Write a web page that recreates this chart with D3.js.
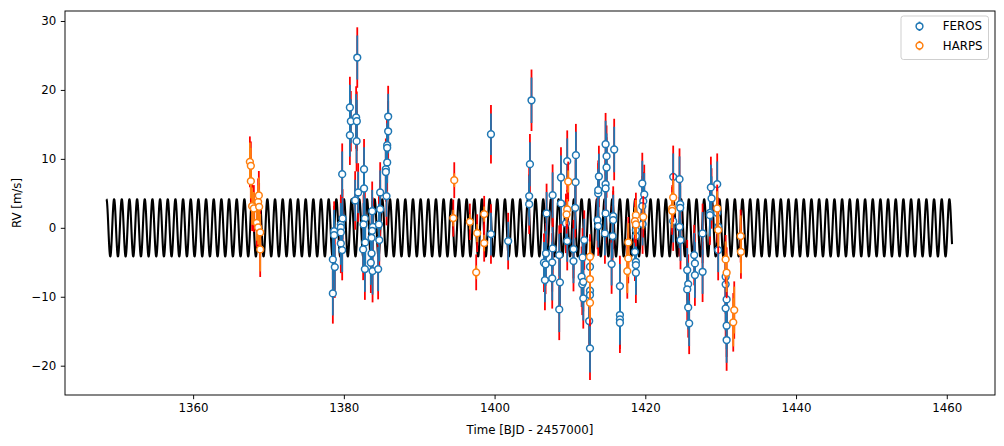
<!DOCTYPE html>
<html>
<head>
<meta charset="utf-8">
<script src="https://cdn.jsdelivr.net/npm/d3@7"></script>
<style>
  body { margin: 0; background: #fff; }
  svg text { font-family: "DejaVu Sans", sans-serif; }
</style>
</head>
<body>
<svg id="chart" width="1004" height="446"></svg>
<script>
// FEROS radial velocities (time, rv, error)
var feros_t = [1378.54,1378.54,1378.71,1378.71,1378.80,1379.60,1379.60,1379.60,1379.60,1379.78,1379.78,1379.83,
  1380.80,1380.93,1380.80,1381.50,1381.63,1381.69,1381.72,1381.78,1381.90,1382.56,1382.68,1382.68,1382.79,1382.61,
  1382.83,1382.79,1383.76,1383.85,1383.76,1383.68,1383.68,1383.58,1383.81,1384.55,1384.65,1384.70,1384.82,1384.82,
  1385.57,1385.57,1385.66,1385.75,1385.75,1385.75,1385.88,1385.88,
  1399.52,1399.52,1401.80,1404.69,1404.59,1404.59,1404.90,
  1406.90,1406.81,1406.55,1406.77,1406.68,1407.70,1407.70,1407.65,1407.65,1408.58,1408.67,1408.58,1408.81,1408.81,
  1409.64,1409.46,1409.64,1410.79,1410.75,1410.70,1410.47,1410.47,1411.90,1411.68,1411.55,1411.63,1411.77,1411.77,
  1412.66,1412.66,1412.66,1412.55,1412.66,1413.75,1413.75,1413.84,1413.66,1413.75,1414.64,1414.73,1414.86,1414.86,
  1414.73,1414.73,1414.73,1415.87,1415.74,1415.74,1415.66,1415.53,1416.63,1416.63,1416.63,1416.63,
  1418.75,1418.62,1418.75,1418.75,1418.75,1418.75,1419.60,1419.86,1419.73,1419.60,1419.64,
  1423.70,1423.70,1424.54,1424.63,1424.63,1424.54,1424.67,1426.49,1426.58,1426.58,1425.56,1425.69,1425.56,1425.69,
  1425.82,1427.60,1427.60,1428.70,1428.79,1428.57,1428.57,1429.54,1429.54,1429.67,1429.67,
  1430.66,1430.66,1430.79,1430.66,1430.79,1430.79];
var feros_rv = [-9.51,-4.58,-0.48,-1.06,-5.70,0.49,0.05,-0.67,-2.26,7.78,-3.23,1.36,
  17.45,15.46,13.43,3.97,16.00,12.57,15.46,24.70,5.13,-3.13,8.50,5.70,1.36,0.49,
  -2.12,-5.99,2.40,0.15,-0.43,-1.45,-3.72,-5.07,-6.28,-5.99,0.49,-1.78,5.13,2.70,
  8.50,8.10,4.60,11.98,11.60,9.48,16.14,14.00,
  13.58,-0.91,-1.93,9.23,4.60,3.43,18.50,
  2.09,-3.71,-5.07,-5.30,-7.58,4.74,-2.99,-5.01,-7.33,-3.96,-7.91,-11.83,7.30,3.54,
  9.67,0.64,-1.93,10.54,6.62,2.90,-3.09,-4.83,-1.78,-4.29,-7.10,-8.20,-7.83,-10.23,
  -5.65,-9.13,-9.75,-13.52,-17.48,4.99,5.46,7.45,1.12,0.25,-0.81,12.13,10.39,8.75,
  6.33,5.71,2.09,11.36,1.70,1.12,-1.20,-5.26,-8.45,-12.65,-13.28,-13.77,
  -1.20,-3.48,-4.93,-5.41,-6.52,-0.33,6.43,4.84,3.87,3.14,0.54,
  7.39,0.97,7.06,3.43,2.90,0.15,-1.78,-3.96,-5.16,-6.86,-6.13,-8.16,-8.93,-11.54,
  -13.86,-0.81,-6.38,5.86,4.26,2.17,1.84,6.33,2.17,0.15,-3.23,
  -7.10,-8.20,-10.38,-11.68,-14.20,-16.28];
var feros_err = [3.2,3.0,3.1,3.0,3.3,3.1,3.0,3.2,3.1,3.3,3.2,3.0,
  3.3,3.2,3.1,3.0,3.4,3.2,3.1,3.2,3.0,3.3,3.2,3.1,3.0,3.1,
  3.2,3.3,3.1,3.0,3.1,3.2,3.3,3.2,3.4,3.2,3.0,3.1,3.2,3.0,
  3.3,3.1,3.0,3.2,3.1,3.0,3.3,3.2,
  3.0,3.1,2.8,3.2,3.0,3.1,3.3,
  3.1,3.2,3.0,3.1,3.2,3.3,3.1,3.0,3.2,3.1,3.2,3.3,3.2,3.0,
  3.3,3.1,3.0,3.4,3.2,3.1,3.0,3.2,3.1,3.0,3.2,3.3,3.1,3.2,
  3.1,3.2,3.0,3.3,3.5,3.2,3.1,3.3,3.0,3.1,3.2,3.4,3.3,3.2,
  3.1,3.0,3.2,3.3,3.1,3.0,3.2,3.1,3.2,3.3,3.1,3.2,
  3.1,3.0,3.2,3.1,3.2,3.0,3.3,3.1,3.0,3.2,3.1,
  3.4,3.1,3.3,3.0,3.2,3.1,3.0,3.2,3.1,3.3,3.2,3.1,3.3,3.2,
  3.3,3.1,3.2,3.3,3.2,3.0,3.1,3.3,3.1,3.0,3.2,
  3.2,3.1,3.3,3.2,3.4,3.3];
var feros_jitter = 3.0;

// HARPS radial velocities (time, rv, error)
var harps_t = [1367.53,1367.66,1367.66,1367.83,1368.06,1368.45,1368.63,1368.63,1368.72,1368.76,1368.90,1368.90,
  1394.65,1394.52,1396.72,1397.56,1397.69,1398.62,1398.62,
  1409.77,1409.64,1409.55,1412.66,1412.66,1412.66,1417.74,1417.74,1417.61,
  1418.75,1418.62,1418.75,1419.73,1423.70,1423.57,1423.57,1429.54,1429.67,
  1430.66,1430.79,1431.80,1431.67,1432.65,1432.69];
var harps_rv = [9.57,8.99,6.77,3.14,2.80,0.73,0.05,3.77,4.70,3.04,-0.67,-3.13,
  6.91,1.41,0.87,-6.46,-0.77,1.99,-2.22,
  6.72,2.67,1.94,-4.20,-7.43,-10.87,-2.12,-4.44,-6.28,
  1.84,0.97,0.49,1.59,4.40,2.80,2.46,2.80,-0.33,
  -4.58,-6.52,-11.93,-13.71,-1.20,-3.48];
var harps_err = [2.8,2.6,2.5,2.7,2.4,2.6,2.5,2.4,2.6,2.5,2.7,3.2,
  1.0,1.2,1.1,1.0,1.3,1.1,1.2,
  1.6,1.5,1.4,2.2,2.0,2.4,2.8,2.7,3.2,
  2.2,2.0,2.1,1.8,2.6,2.4,2.5,2.5,2.4,
  2.6,2.8,3.4,3.5,3.0,3.1];
var harps_jitter = 2.4;

// sinusoidal model
var model_start = 1348.5, model_end = 1460.7;
var model_period = 1.0168, model_peak = 1348.5;
var model_K = 4.15, model_offset = 0.0;

var xTicks = [1360, 1380, 1400, 1420, 1440, 1460];
var yTicks = [-20, -10, 0, 10, 20, 30];

var FEROS_COLOR = "#1f77b4", HARPS_COLOR = "#ff7f0e", JITTER_COLOR = "#ff0000";
var fontPx = 11.8;

var svg = d3.select("#chart");
var pLeft = 65, pRight = 995, pTop = 11, pBottom = 395;

var x = d3.scaleLinear().domain([1343.0, 1466.4]).range([pLeft, pRight]);
var y = d3.scaleLinear().domain([-24.25, 31.45]).range([pBottom, pTop]);

svg.append("clipPath").attr("id", "clip")
  .append("rect").attr("x", pLeft).attr("y", pTop).attr("width", pRight - pLeft).attr("height", pBottom - pTop);
var plot = svg.append("g").attr("id", "plot").attr("clip-path", "url(#clip)");

// model curve
var model_pts = d3.range(model_start, model_end + 1e-9, 0.01).map(function(t) {
  return [t, model_offset + model_K * Math.cos(2 * Math.PI * (t - model_peak) / model_period)];
});
plot.append("path")
  .datum(model_pts)
  .attr("fill", "none")
  .attr("stroke", "#000")
  .attr("stroke-width", 2.1)
  .attr("stroke-linejoin", "round")
  .attr("d", d3.line().x(function(d){ return x(d[0]); }).y(function(d){ return y(d[1]); }));

function instrument(ts, rvs, errs) {
  return ts.map(function(t, i){ return {t: t, rv: rvs[i], err: errs[i]}; });
}
var feros = instrument(feros_t, feros_rv, feros_err);
var harps = instrument(harps_t, harps_rv, harps_err);

function drawErrors(data, jitter) {
  var g = plot.append("g");
  // error inflated with jitter, in red
  g.selectAll(".jit").data(data).enter().append("line")
    .attr("x1", function(d){ return x(d.t); })
    .attr("x2", function(d){ return x(d.t); })
    .attr("y1", function(d){ return y(d.rv + Math.sqrt(d.err*d.err + jitter*jitter)); })
    .attr("y2", function(d){ return y(d.rv - Math.sqrt(d.err*d.err + jitter*jitter)); })
    .attr("stroke", JITTER_COLOR).attr("stroke-width", 1.8);
}
function drawPoints(data, color) {
  var g = plot.append("g");
  g.selectAll(".bar").data(data).enter().append("line")
    .attr("x1", function(d){ return x(d.t); })
    .attr("x2", function(d){ return x(d.t); })
    .attr("y1", function(d){ return y(d.rv + d.err); })
    .attr("y2", function(d){ return y(d.rv - d.err); })
    .attr("stroke", color).attr("stroke-width", 1.8);
  g.selectAll(".pt").data(data).enter().append("circle")
    .attr("cx", function(d){ return x(d.t); })
    .attr("cy", function(d){ return y(d.rv); })
    .attr("r", 3.4)
    .attr("fill", "#fff").attr("stroke", color).attr("stroke-width", 1.5);
}
drawErrors(feros, feros_jitter);
drawPoints(feros, FEROS_COLOR);
drawErrors(harps, harps_jitter);
drawPoints(harps, HARPS_COLOR);

// axes
var xAxis = svg.append("g").attr("transform", "translate(0," + pBottom + ")")
  .call(d3.axisBottom(x).tickValues(xTicks).tickSize(4.2).tickPadding(4.5).tickFormat(d3.format("d")));
var yAxis = svg.append("g").attr("transform", "translate(" + pLeft + ",0)")
  .call(d3.axisLeft(y).tickValues(yTicks).tickSize(4.2).tickPadding(4.5));
[xAxis, yAxis].forEach(function(a){
  a.select(".domain").remove();
  a.selectAll(".tick line").attr("stroke", "#000").attr("stroke-width", 0.95);
  a.selectAll(".tick text").attr("fill", "#000").style("font-size", fontPx + "px")
    .style("font-family", "'DejaVu Sans', sans-serif");
});

svg.append("rect").attr("x", pLeft).attr("y", pTop)
  .attr("width", pRight - pLeft).attr("height", pBottom - pTop)
  .attr("fill", "none").attr("stroke", "#000").attr("stroke-width", 0.95);

svg.append("text").attr("x", (pLeft + pRight) / 2).attr("y", 434)
  .attr("text-anchor", "middle").style("font-size", fontPx + "px")
  .text("Time [BJD - 2457000]");
svg.append("text").attr("transform", "translate(20.5," + (pTop + pBottom) / 2 + ") rotate(-90)")
  .attr("text-anchor", "middle").style("font-size", fontPx + "px")
  .text("RV [m/s]");

// legend
var legend = svg.append("g").attr("transform", "translate(901,16)");
legend.append("rect").attr("width", 87.5).attr("height", 43.5).attr("rx", 2.5)
  .attr("fill", "#fff").attr("fill-opacity", 0.8).attr("stroke", "#cccccc").attr("stroke-width", 0.95);
var entries = [{name: "FEROS", color: FEROS_COLOR}, {name: "HARPS", color: HARPS_COLOR}];
var le = legend.selectAll(".entry").data(entries).enter().append("g")
  .attr("transform", function(d, i){ return "translate(0," + (10.3 + i * 19.3) + ")"; });
le.append("line").attr("x1", 18.5).attr("x2", 18.5).attr("y1", -4.7).attr("y2", 4.7)
  .attr("stroke", function(d){ return d.color; }).attr("stroke-width", 1.8);
le.append("circle").attr("cx", 18.5).attr("cy", 0).attr("r", 3.4)
  .attr("fill", "#fff").attr("stroke", function(d){ return d.color; }).attr("stroke-width", 1.5);
le.append("text").attr("x", 41.8).attr("y", 4.1).style("font-size", fontPx + "px")
  .text(function(d){ return d.name; });
</script>
</body>
</html>
